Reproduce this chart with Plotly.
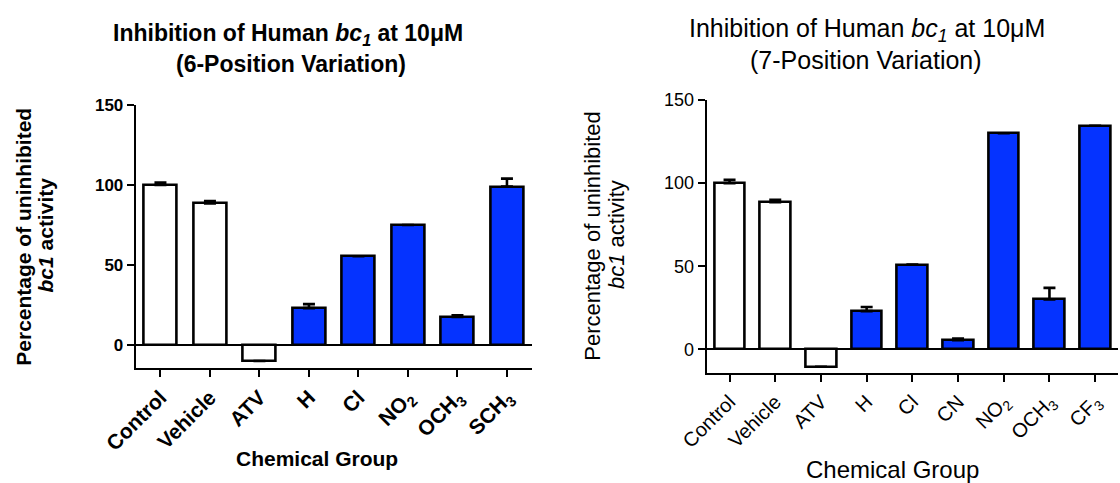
import plotly.graph_objects as go

# ---- data -------------------------------------------------------------
left_categories = ["Control", "Vehicle", "ATV", "H", "Cl",
                   "NO<sub>2</sub>", "OCH<sub>3</sub>", "SCH<sub>3</sub>"]
left_values = [100, 88.5, -10, 23, 55.5, 75, 17.5, 99]
left_errors = [1.5, 1.5, 0, 2.5, 0, 0, 1, 5]

right_categories = ["Control", "Vehicle", "ATV", "H", "Cl", "CN",
                    "NO<sub>2</sub>", "OCH<sub>3</sub>", "CF<sub>3</sub>"]
right_values = [100, 88.5, -10.5, 23, 51, 5.5, 130, 30, 134.5]
right_errors = [2, 1.5, 0, 2.5, 0, 1, 0, 7, 0]

y_ticks = [0, 50, 100, 150]
n_reference = 3  # Control, Vehicle, ATV are drawn unfilled

# ---- styling ------------------------------------------------------------
W, H = 1120, 483
FONT = "Liberation Sans, Arial, sans-serif"
BLUE = "#0533ff"


def fills(n):
    return ["white"] * n_reference + [BLUE] * (n - n_reference)


def px(x, y):
    return x / W, 1 - y / H


fig = go.Figure()

for cats, vals, errs, xa, ya in [
    (left_categories, left_values, left_errors, "x", "y"),
    (right_categories, right_values, right_errors, "x2", "y2"),
]:
    fig.add_trace(go.Bar(
        x=cats, y=vals, width=0.67,
        marker=dict(color=fills(len(cats)), line=dict(color="black", width=2.6)),
        error_y=dict(type="data", symmetric=False, array=errs,
                     arrayminus=[0] * len(errs), color="black",
                     thickness=2.6, width=6, visible=True),
        xaxis=xa, yaxis=ya, showlegend=False,
    ))

axis_common = dict(showline=True, linecolor="black", linewidth=2,
                   ticks="outside", tickcolor="black", tickwidth=2,
                   ticklen=7, showgrid=False, automargin=False)

lx0, lx1, ly0, ly1 = 135.7, 531.7, 368, 105
rx0, rx1, ry0, ry1 = 706.7, 1118, 373.3, 100

fig.update_layout(
    template="none",
    width=W, height=H, margin=dict(l=0, r=0, t=0, b=0, autoexpand=False),
    paper_bgcolor="white", plot_bgcolor="white",
    xaxis=dict(domain=[lx0 / W, lx1 / W], anchor="y", type="category",
               range=[-0.5, 7.5], tickangle=-45,
               tickfont=dict(family=FONT, size=21, color="black", weight="bold"),
               **axis_common),
    yaxis=dict(domain=[1 - ly0 / H, 1 - ly1 / H], anchor="x",
               range=[-14.4, 150], tickvals=y_ticks,
               tickfont=dict(family=FONT, size=17, color="black", weight="bold"),
               zeroline=True, zerolinecolor="black", zerolinewidth=2,
               **axis_common),
    xaxis2=dict(domain=[rx0 / W, rx1 / W], anchor="y2", type="category",
                range=[-0.5, 8.5], tickangle=-45,
                tickfont=dict(family=FONT, size=20, color="black"),
                **axis_common),
    yaxis2=dict(domain=[1 - ry0 / H, 1 - ry1 / H], anchor="x2",
                range=[-14.4, 150], tickvals=y_ticks,
                tickfont=dict(family=FONT, size=18, color="black"),
                zeroline=True, zerolinecolor="black", zerolinewidth=2,
                **axis_common),
    bargap=0,
)

annotations = []


def label(text, x, y, size, bold, angle=0):
    ax, ay = px(x, y)
    annotations.append(dict(
        text=text, x=ax, y=ay, xref="paper", yref="paper",
        xanchor="center", yanchor="middle", showarrow=False, textangle=angle,
        font=dict(family=FONT, size=size, color="black",
                  weight="bold" if bold else "normal"),
    ))


title_line = "Inhibition of Human <i>bc<sub>1</sub></i> at 10\u03bcM"

# left panel
label(title_line, 288, 35, 23, True)
label("(6-Position Variation)", 291, 64, 23, True)
label("Percentage of uninhibited", 24, 236.7, 21, True, -90)
label("<i>bc1</i> activity", 44.5, 235, 21, True, -90)
label("Chemical Group", 316.7, 458, 21, True)

# right panel
label(title_line, 867, 30, 25, False)
label("(7-Position Variation)", 866, 60, 25, False)
label("Percentage of uninhibited", 593, 235.7, 22, False, -90)
label("<i>bc1</i> activity", 616, 235, 22, False, -90)
label("Chemical Group", 892.5, 469, 24, False)

fig.update_layout(annotations=annotations)

fig.write_html("out.html")
